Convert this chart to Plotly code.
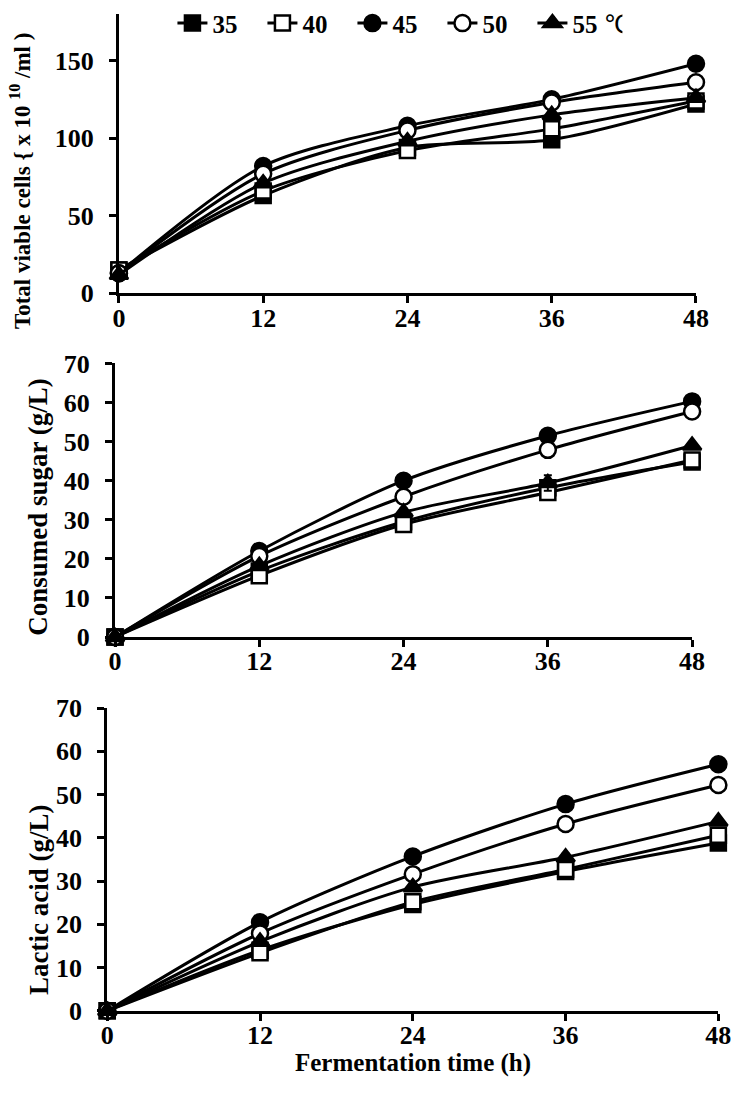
import plotly.graph_objects as go

W, H = 745, 1093

time_h = [0, 12, 24, 36, 48]
temp_labels = ["35", "40", "45", "50",
               "55 <span style=\"font-family:DejaVu Sans;font-weight:normal\">℃</span>"]

# Total viable cells (x10^10 /ml)
cells_35 = [15, 63, 94, 99, 122]
cells_40 = [15, 66, 92, 106, 124]
cells_45 = [13, 82, 108, 125, 148]
cells_50 = [13, 77, 105, 123, 136]
cells_55 = [12, 71, 98, 115, 126]
cells_err_35 = [1, 2, 2, 2, 2]
cells_err_40 = [1, 2, 2, 2, 2]
cells_err_45 = [1, 2, 4, 2, 2]
cells_err_50 = [1, 2, 3, 2, 2]
cells_err_55 = [1, 2, 2, 2, 2]

# Consumed sugar (g/L)
sugar_35 = [0, 16.9, 29.5, 38.2, 44.8]
sugar_40 = [0, 15.7, 28.8, 37.0, 45.3]
sugar_45 = [0, 22.0, 40.0, 51.5, 60.3]
sugar_50 = [0, 20.7, 35.9, 47.9, 57.7]
sugar_55 = [0, 18.2, 31.9, 39.4, 49.0]
sugar_err_35 = [0, 0.8, 0.8, 0.8, 0.8]
sugar_err_40 = [0, 0.8, 0.8, 0.8, 0.8]
sugar_err_45 = [0, 0.8, 0.8, 0.8, 0.8]
sugar_err_50 = [0, 0.8, 0.8, 0.8, 0.8]
sugar_err_55 = [0, 0.8, 1.0, 2.0, 0.8]

# Lactic acid (g/L)
acid_35 = [0, 14.0, 24.6, 32.2, 38.8]
acid_40 = [0, 13.4, 25.2, 32.7, 40.6]
acid_45 = [0, 20.5, 35.7, 47.8, 57.0]
acid_50 = [0, 17.9, 31.6, 43.2, 52.2]
acid_55 = [0, 16.0, 28.6, 35.5, 43.8]
acid_err_35 = [0, 0.8, 0.8, 0.8, 1.6]
acid_err_40 = [0, 0.8, 0.8, 0.8, 0.8]
acid_err_45 = [0, 0.8, 0.8, 0.8, 0.8]
acid_err_50 = [0, 0.8, 0.8, 0.8, 0.8]
acid_err_55 = [0, 0.8, 0.8, 0.8, 0.8]

panels = [
    ([cells_35, cells_40, cells_45, cells_50, cells_55],
     [cells_err_35, cells_err_40, cells_err_45, cells_err_50, cells_err_55]),
    ([sugar_35, sugar_40, sugar_45, sugar_50, sugar_55],
     [sugar_err_35, sugar_err_40, sugar_err_45, sugar_err_50, sugar_err_55]),
    ([acid_35, acid_40, acid_45, acid_50, acid_55],
     [acid_err_35, acid_err_40, acid_err_45, acid_err_50, acid_err_55]),
]

symbols = ["square", "square", "circle", "circle", "triangle-up"]
fills = ["black", "white", "black", "white", "black"]
sizes = [15, 15, 16, 16, 16]

FONT = "Liberation Serif"

fig = go.Figure()

axis_ids = [("x", "y"), ("x2", "y2"), ("x3", "y3")]
for p, (series, errs) in enumerate(panels):
    xa, ya = axis_ids[p]
    for i in range(5):
        fig.add_trace(go.Scatter(
            x=time_h, y=series[i],
            xaxis=xa, yaxis=ya,
            mode="lines+markers",
            name=temp_labels[i],
            legendgroup=str(i),
            showlegend=(p == 0),
            line=dict(color="black", width=3, shape="spline", smoothing=0.8),
            marker=dict(symbol=symbols[i], size=sizes[i], color=fills[i],
                        line=dict(color="black", width=2.5)),
            error_y=dict(type="data", array=errs[i], visible=True,
                         color="black", thickness=2, width=4),
            cliponaxis=False,
        ))

def px_x(v):
    return v / W

def px_y(v):
    return 1 - v / H

axis_common = dict(
    showline=True, linecolor="black", linewidth=3,
    ticks="outside", ticklen=7, tickwidth=3, tickcolor="black",
    showgrid=False, zeroline=False,
    tickfont=dict(family=FONT, size=26, color="black", weight="bold"),
)

# domains in pixels: (x0, x1, ytop, ybottom)
doms = [(115, 708, 0, 287), (111, 704, 359, 640), (103, 731, 713, 1024)]
yranges = [[0, 180], [0, 70], [0, 70]]
ytickvals = [[0, 50, 100, 150], list(range(0, 71, 10)), list(range(0, 71, 10))]

layout = dict(
    width=W, height=H,
    margin=dict(l=0, r=0, t=0, b=0),
    paper_bgcolor="white", plot_bgcolor="white",
    showlegend=True,
    legend=dict(orientation="h", x=px_x(170), y=px_y(-14), xanchor="left", yanchor="top",
                font=dict(family=FONT, size=25, color="black", weight="bold"),
                bgcolor="rgba(0,0,0,0)", itemsizing="trace", tracegroupgap=0,
                entrywidth=45, entrywidthmode="pixels"),
)

for p in range(3):
    x0, x1, yt, yb = doms[p]
    suffix = "" if p == 0 else str(p + 1)
    layout["xaxis" + suffix] = dict(
        axis_common, domain=[px_x(x0), px_x(x1)], range=[0, 48],
        tickvals=time_h, anchor="y" + suffix, ticklabelstandoff=-8,
    )
    layout["yaxis" + suffix] = dict(
        axis_common, domain=[px_y(yb), px_y(yt)], range=yranges[p],
        tickvals=ytickvals[p], anchor="x" + suffix, ticklabelstandoff=10,
    )

fig.update_layout(**layout)

title_font = dict(family=FONT, size=27, color="black", weight="bold")
annotations = [
    dict(text="Total viable cells { x 10 <sup>10</sup> /ml )", x=px_x(14), y=px_y(172),
         textangle=-90, font=dict(family=FONT, size=23, color="black", weight="bold")),
    dict(text="Consumed sugar (g/L)", x=px_x(31), y=px_y(506), textangle=-90, font=title_font),
    dict(text="Lactic acid (g/L)", x=px_x(33), y=px_y(910), textangle=-90, font=title_font),
    dict(text="Fermentation time (h)", x=px_x(417), y=px_y(1078), textangle=0,
         font=dict(family=FONT, size=25, color="black", weight="bold")),
]
for a in annotations:
    fig.add_annotation(xref="paper", yref="paper", showarrow=False,
                       xanchor="center", yanchor="middle", **a)

fig.write_html("out.html")
